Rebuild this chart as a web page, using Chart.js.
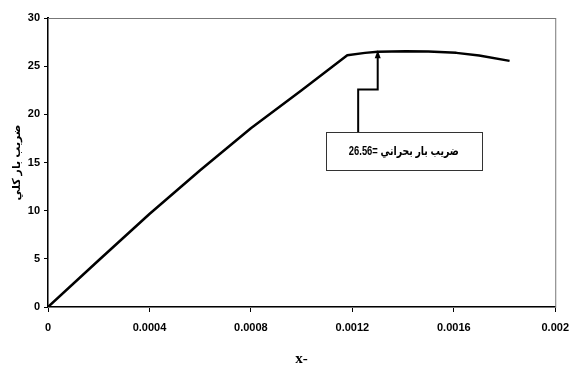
<!DOCTYPE html>
<html>
<head>
<meta charset="utf-8">
<script src="https://cdn.jsdelivr.net/npm/chart.js@4"></script>
<style>
  html, body { margin: 0; padding: 0; background: #fff; }
  #wrap { width: 578px; height: 367px; }
</style>
</head>
<body>
<div id="wrap"><canvas id="myChart" width="578" height="367"></canvas></div>
<script>
// strain (x) vs load factor
let strain = [0, 0.0002, 0.0004, 0.0006, 0.0008, 0.001, 0.00118, 0.00125, 0.0013, 0.00141, 0.0015, 0.00161, 0.0017, 0.00182];
let loadFactor = [0, 4.85, 9.65, 14.2, 18.55, 22.5, 26.14, 26.38, 26.5, 26.56, 26.52, 26.38, 26.1, 25.55];
let xTicks = [0, 0.0004, 0.0008, 0.0012, 0.0016, 0.002];
let yTicks = [0, 5, 10, 15, 20, 25, 30];

// callout: critical load factor
let critX = 0.0013;
let critY = 26.56;
let critText = 'ضريب بار بحراني =26.56';

let labelFont = 'bold 12px Arial, "Liberation Sans", "DejaVu Sans", sans-serif';

let calloutPlugin = {
  id: 'callout',
  beforeDatasetsDraw(chart) {
    let c = chart.ctx, a = chart.chartArea;
    c.save();
    c.strokeStyle = '#777';
    c.lineWidth = 1;
    c.strokeRect(a.left + 0.5, a.top + 0.5, a.right - a.left, a.bottom - a.top);
    c.restore();
  },
  afterDatasetsDraw(chart) {
    let c = chart.ctx;
    let xs = chart.scales.x, ys = chart.scales.y;
    let tipX = xs.getPixelForValue(critX);
    let tipY = ys.getPixelForValue(critY);
    let stemX = xs.getPixelForValue(0.001223);
    let stepY = ys.getPixelForValue(22.57);
    let boxCx = xs.getPixelForValue(0.001403);
    let boxCy = ys.getPixelForValue(16.17);
    let bw = 156, bh = 38;
    let boxTop = boxCy - bh / 2;

    c.save();
    c.strokeStyle = '#000';
    c.lineWidth = 2;
    c.beginPath();
    c.moveTo(stemX, boxTop);
    c.lineTo(stemX, stepY);
    c.lineTo(tipX, stepY);
    c.lineTo(tipX, tipY + 5);
    c.stroke();
    c.fillStyle = '#000';
    c.beginPath();
    c.moveTo(tipX, tipY - 1);
    c.lineTo(tipX - 3, tipY + 7);
    c.lineTo(tipX + 3, tipY + 7);
    c.closePath();
    c.fill();

    c.fillStyle = '#fff';
    c.fillRect(boxCx - bw / 2, boxTop, bw, bh);
    c.strokeStyle = '#333';
    c.lineWidth = 1;
    c.strokeRect(Math.round(boxCx - bw / 2) + 0.5, Math.round(boxTop) + 0.5, bw, bh);

    c.fillStyle = '#000';
    c.font = labelFont;
    c.direction = 'rtl';
    c.textAlign = 'center';
    c.textBaseline = 'middle';
    c.fillText(critText, boxCx, boxCy, 110);
    c.restore();
  }
};

let ctx = document.getElementById('myChart').getContext('2d');

let myChart = new Chart(ctx, {
  type: 'line',
  data: {
    datasets: [{
      data: strain.map((v, i) => ({x: v, y: loadFactor[i]})),
      borderColor: '#000',
      borderWidth: 2.5,
      pointRadius: 0,
      tension: 0,
      borderJoinStyle: 'round',
      fill: false
    }]
  },
  options: {
    responsive: false,
    animation: false,
    layout: { padding: { left: 0, right: 15, top: 18, bottom: 0 } },
    plugins: {
      legend: { display: false },
      tooltip: { enabled: false }
    },
    scales: {
      x: {
        type: 'linear',
        min: 0,
        max: 0.002,
        afterFit: (s) => { s.height = 60; },
        afterBuildTicks: (s) => { s.ticks = xTicks.map(v => ({value: v})); },
        grid: { drawOnChartArea: false, tickLength: 5, tickColor: '#000', tickWidth: 1 },
        border: { color: '#000', width: 2 },
        ticks: {
          color: '#000',
          padding: 9,
          maxRotation: 0,
          font: { family: 'Arial, "Liberation Sans", sans-serif', size: 11, weight: 'bold' },
          callback: (v) => String(v)
        },
        title: {
          display: true,
          text: 'x-',
          color: '#000',
          padding: { top: 0, bottom: 0 },
          font: { family: '"Times New Roman", "Liberation Serif", serif', size: 15, weight: 'bold', lineHeight: 1 }
        }
      },
      y: {
        min: 0,
        max: 30,
        afterFit: (s) => { s.width = 48; },
        afterBuildTicks: (s) => { s.ticks = yTicks.map(v => ({value: v})); },
        grid: { drawOnChartArea: false, tickLength: 4, tickColor: '#000', tickWidth: 1 },
        border: { color: '#000', width: 2 },
        ticks: {
          color: '#000',
          padding: 4,
          font: { family: 'Arial, "Liberation Sans", sans-serif', size: 11, weight: 'bold' }
        },
        title: {
          display: true,
          text: 'ضريب بار كلي',
          color: '#000',
          padding: { top: 10, bottom: 0 },
          font: { family: 'Arial, "DejaVu Sans", sans-serif', size: 11, weight: 'bold' }
        }
      }
    }
  },
  plugins: [calloutPlugin]
});
</script>
</body>
</html>
